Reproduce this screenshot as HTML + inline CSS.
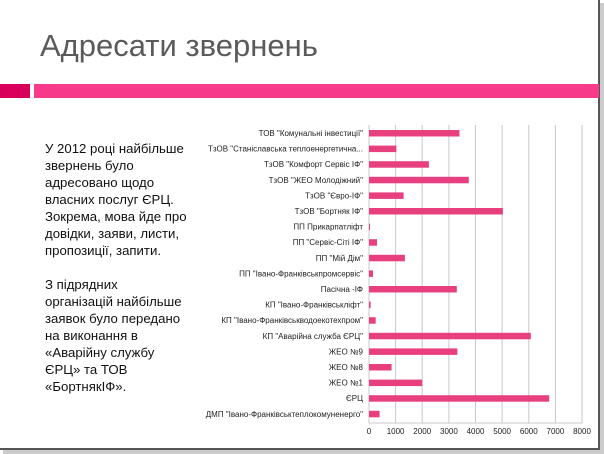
<!DOCTYPE html><html><head><meta charset="utf-8"><style>
body{margin:0;width:604px;height:454px;background:#fff;overflow:hidden;position:relative;font-family:"Liberation Sans","DejaVu Sans",sans-serif}
.frame{position:absolute;left:0;top:0;width:600px;height:450px;border-right:2px solid #555;border-bottom:2px solid #555;box-sizing:border-box}
.shadow{position:absolute;left:3px;top:3px;width:601px;height:451px;background:#ccc}
.title{position:absolute;left:40px;top:28px;font-size:31px;color:#5a5a5a}
.txt{position:absolute;left:45px;top:140px;font-size:13.2px;line-height:17px;color:#111}
</style></head><body>
<div class="shadow"></div>
<div style="position:absolute;left:0;top:0;width:600px;height:450px;background:#fff"></div>
<div class="frame"></div>
<div class="title">Адресати звернень</div>
<div style="position:absolute;left:0;top:84px;width:30px;height:14px;background:#d8005a"></div>
<div style="position:absolute;left:34px;top:84px;width:565px;height:14px;background:#f83a8a"></div>
<div class="txt">У 2012 році найбільше<br>звернень було<br>адресовано щодо<br>власних послуг ЄРЦ.<br>Зокрема, мова йде про<br>довідки, заяви, листи,<br>пропозиції, запити.<br><div style="height:17px"></div>З підрядних<br>організацій найбільше<br>заявок було передано<br>на виконання в<br>«Аварійну службу<br>ЄРЦ» та ТОВ<br>«БортнякІФ».</div>
<svg style="position:absolute;left:0;top:0" width="604" height="454" font-family="Liberation Sans, DejaVu Sans, sans-serif">
<g stroke="#c8c8c8" stroke-width="1">
<line x1="395.6" y1="125" x2="395.6" y2="423"/><line x1="422.2" y1="125" x2="422.2" y2="423"/><line x1="448.9" y1="125" x2="448.9" y2="423"/><line x1="475.5" y1="125" x2="475.5" y2="423"/><line x1="502.1" y1="125" x2="502.1" y2="423"/><line x1="528.8" y1="125" x2="528.8" y2="423"/><line x1="555.4" y1="125" x2="555.4" y2="423"/><line x1="582" y1="125" x2="582" y2="423"/>
<line x1="369" y1="125" x2="369" y2="423"/><line x1="369" y1="423" x2="582" y2="423"/>
</g>
<g fill="#e8407f" id="bars"></g>
<g font-size="8" fill="#222" text-anchor="end" id="labs"></g>
<g font-size="8" fill="#222" text-anchor="middle">
<text x="369" y="434">0</text><text x="395.6" y="434">1000</text><text x="422.2" y="434">2000</text><text x="448.9" y="434">3000</text><text x="475.5" y="434">4000</text><text x="502.1" y="434">5000</text><text x="528.8" y="434">6000</text><text x="555.4" y="434">7000</text><text x="582" y="434">8000</text>
</g>
<rect x="369" y="130" width="90.5" height="6.5" fill="#e8407f"/><text x="363" y="136" font-size="8" text-anchor="end" fill="#222">ТОВ "Комунальні інвестиції"</text>
<rect x="369" y="145.6" width="27.4" height="6.5" fill="#e8407f"/><text x="363" y="151.6" font-size="8" text-anchor="end" fill="#222">ТзОВ "Станіславська теплоенергетична...</text>
<rect x="369" y="161.2" width="59.9" height="6.5" fill="#e8407f"/><text x="363" y="167.2" font-size="8" text-anchor="end" fill="#222">ТзОВ "Комфорт Сервіс ІФ"</text>
<rect x="369" y="176.8" width="99.8" height="6.5" fill="#e8407f"/><text x="363" y="182.8" font-size="8" text-anchor="end" fill="#222">ТзОВ "ЖЕО Молодіжний"</text>
<rect x="369" y="192.4" width="34.6" height="6.5" fill="#e8407f"/><text x="363" y="198.4" font-size="8" text-anchor="end" fill="#222">ТзОВ "Євро-ІФ"</text>
<rect x="369" y="208" width="133.9" height="6.5" fill="#e8407f"/><text x="363" y="214" font-size="8" text-anchor="end" fill="#222">ТзОВ  "Бортняк ІФ"</text>
<rect x="369" y="223.6" width="1" height="6.5" fill="#e8407f"/><text x="363" y="229.6" font-size="8" text-anchor="end" fill="#222">ПП Прикарпатліфт</text>
<rect x="369" y="239.2" width="8" height="6.5" fill="#e8407f"/><text x="363" y="245.2" font-size="8" text-anchor="end" fill="#222">ПП "Сервіс-Сіті ІФ"</text>
<rect x="369" y="254.8" width="35.9" height="6.5" fill="#e8407f"/><text x="363" y="260.8" font-size="8" text-anchor="end" fill="#222">ПП "Мій Дім"</text>
<rect x="369" y="270.4" width="4" height="6.5" fill="#e8407f"/><text x="363" y="276.4" font-size="8" text-anchor="end" fill="#222">ПП "Івано-Франківськпромсервіс"</text>
<rect x="369" y="286" width="87.8" height="6.5" fill="#e8407f"/><text x="363" y="292" font-size="8" text-anchor="end" fill="#222">Пасічна -ІФ</text>
<rect x="369" y="301.6" width="1.6" height="6.5" fill="#e8407f"/><text x="363" y="307.6" font-size="8" text-anchor="end" fill="#222">КП "Івано-Франківськліфт"</text>
<rect x="369" y="317.2" width="6.7" height="6.5" fill="#e8407f"/><text x="363" y="323.2" font-size="8" text-anchor="end" fill="#222">КП "Івано-Франківськводоекотехпром"</text>
<rect x="369" y="332.8" width="161.8" height="6.5" fill="#e8407f"/><text x="363" y="338.8" font-size="8" text-anchor="end" fill="#222">КП "Аварійна служба ЄРЦ"</text>
<rect x="369" y="348.4" width="88.4" height="6.5" fill="#e8407f"/><text x="363" y="354.4" font-size="8" text-anchor="end" fill="#222">ЖЕО №9</text>
<rect x="369" y="364" width="22.6" height="6.5" fill="#e8407f"/><text x="363" y="370" font-size="8" text-anchor="end" fill="#222">ЖЕО №8</text>
<rect x="369" y="379.6" width="53.2" height="6.5" fill="#e8407f"/><text x="363" y="385.6" font-size="8" text-anchor="end" fill="#222">ЖЕО №1</text>
<rect x="369" y="395.2" width="180.2" height="6.5" fill="#e8407f"/><text x="363" y="401.2" font-size="8" text-anchor="end" fill="#222">ЄРЦ</text>
<rect x="369" y="410.8" width="10.6" height="6.5" fill="#e8407f"/><text x="363" y="416.8" font-size="8" text-anchor="end" fill="#222">ДМП "Івано-Франківськтеплокомуненерго"</text>
</svg>
</body></html>
